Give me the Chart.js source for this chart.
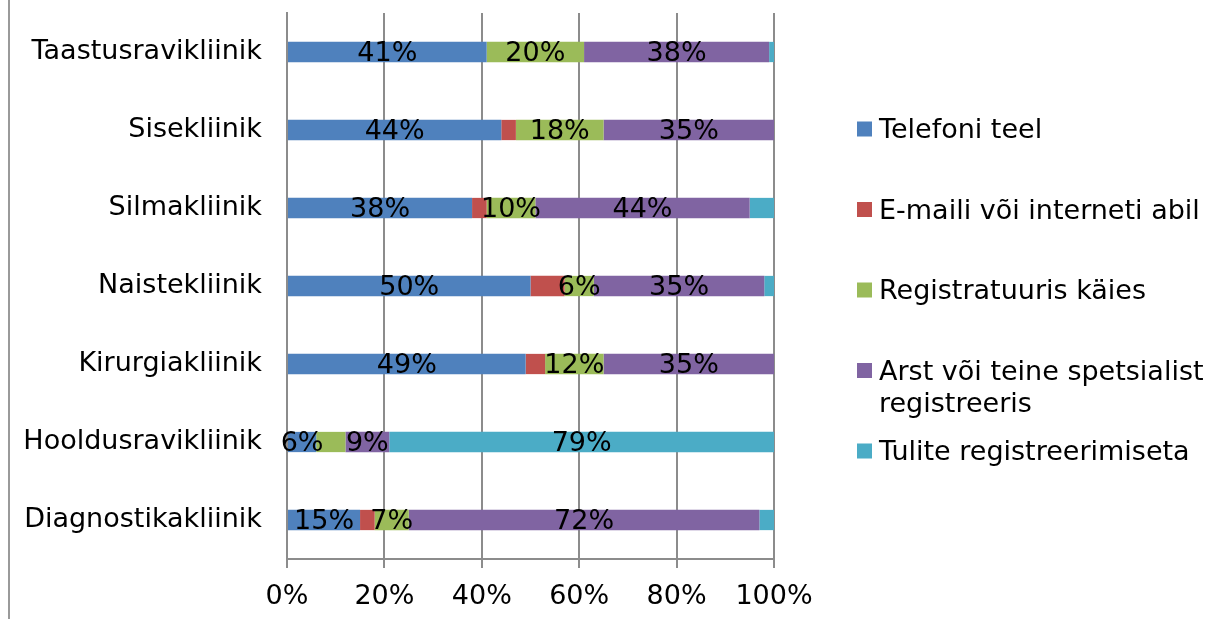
<!DOCTYPE html>
<html>
<head>
<meta charset="utf-8">
<script src="https://cdn.jsdelivr.net/npm/chart.js@4"></script>
<style>
  html, body { margin: 0; padding: 0; background: #fff; }
  canvas { display: block; }
</style>
</head>
<body>
<canvas id="chart" width="1215" height="619"></canvas>
<script>
const categories = ['Taastusravikliinik', 'Sisekliinik', 'Silmakliinik', 'Naistekliinik', 'Kirurgiakliinik', 'Hooldusravikliinik', 'Diagnostikakliinik'];
const telefoniTeel = [41, 44, 38, 50, 49, 6, 15];
const emailVoiInternet = [0, 3, 3, 7, 4, 0, 3];
const registratuurisKaies = [20, 18, 10, 6, 12, 6, 7];
const arstRegistreeris = [38, 35, 44, 35, 35, 9, 72];
const tuliteRegistreerimiseta = [1, 0, 5, 2, 0, 79, 3];
const xTicks = [0, 20, 40, 60, 80, 100];

const FONT = '"DejaVu Sans", Verdana, sans-serif';
const FONT_SIZE = 27;
const GRID = '#8c8c8c';

// value labels in the middle of each segment; small ones and ones that would
// run into the previous label in the row are skipped
const segmentLabels = {
  id: 'segmentLabels',
  afterDatasetsDraw(chart) {
    const ctx = chart.ctx;
    ctx.save();
    ctx.font = FONT_SIZE + 'px ' + FONT;
    ctx.fillStyle = '#000';
    ctx.textAlign = 'center';
    ctx.textBaseline = 'middle';
    const lastRight = {};
    chart.data.datasets.forEach((ds, di) => {
      if (ds.noLabels) return;
      chart.getDatasetMeta(di).data.forEach((bar, i) => {
        const v = ds.data[i];
        if (v <= 5) return;
        const text = v + '%';
        const w = ctx.measureText(text).width;
        const cx = (bar.x + bar.base) / 2;
        if (lastRight[i] !== undefined && cx - w / 2 < lastRight[i]) return;
        ctx.fillText(text, cx, bar.y + 2);
        lastRight[i] = cx + w / 2;
      });
    });
    ctx.restore();
  }
};

// legend on the right, one entry every 80px, long names wrap to two lines
const sideLegend = {
  id: 'sideLegend',
  afterDraw(chart) {
    const ctx = chart.ctx;
    ctx.save();
    ctx.font = FONT_SIZE + 'px ' + FONT;
    ctx.textBaseline = 'middle';
    ctx.textAlign = 'left';
    chart.data.datasets.forEach((ds, i) => {
      const cy = 129 + i * 80.5;
      ctx.fillStyle = ds.backgroundColor;
      ctx.fillRect(857, cy - 7.5, 15, 15);
      ctx.fillStyle = '#000';
      const lines = Array.isArray(ds.legendText) ? ds.legendText : [ds.label];
      lines.forEach((line, k) => ctx.fillText(line, 879, cy + 2 + k * 32));
    });
    ctx.restore();
  }
};

// outer frame edge on the left
const frameEdge = {
  id: 'frameEdge',
  beforeDraw(chart) {
    const ctx = chart.ctx;
    ctx.save();
    ctx.strokeStyle = '#9a9a9a';
    ctx.lineWidth = 2;
    ctx.beginPath();
    ctx.moveTo(9, 0);
    ctx.lineTo(9, chart.height);
    ctx.stroke();
    ctx.restore();
  }
};

new Chart(document.getElementById('chart'), {
  type: 'bar',
  data: {
    labels: categories,
    datasets: [
      { label: 'Telefoni teel', data: telefoniTeel, backgroundColor: '#4f81bd' },
      { label: 'E-maili või interneti abil', data: emailVoiInternet, backgroundColor: '#c0504d', noLabels: true },
      { label: 'Registratuuris käies', data: registratuurisKaies, backgroundColor: '#9bbb59' },
      { label: 'Arst või teine spetsialist registreeris', legendText: ['Arst või teine spetsialist', 'registreeris'], data: arstRegistreeris, backgroundColor: '#8064a2' },
      { label: 'Tulite registreerimiseta', data: tuliteRegistreerimiseta, backgroundColor: '#4bacc6' },
    ],
  },
  options: {
    indexAxis: 'y',
    responsive: false,
    animation: false,
    devicePixelRatio: 1,
    barPercentage: 0.26,
    categoryPercentage: 1,
    layout: { padding: { top: 13, right: 441, left: 0, bottom: 0 } },
    scales: {
      x: {
        stacked: true,
        min: 0,
        max: 100,
        afterBuildTicks(scale) {
          scale.ticks = xTicks.map((v) => ({ value: v }));
        },
        afterFit(scale) {
          scale.height = 60;
        },
        ticks: {
          callback: (v) => v + '%',
          color: '#000',
          font: { family: FONT, size: FONT_SIZE },
          padding: 13,
          maxRotation: 0,
        },
        grid: { color: GRID, lineWidth: 2, tickLength: 9 },
        border: { color: GRID, width: 2 },
      },
      y: {
        stacked: true,
        afterFit(scale) {
          scale.width = 287;
          scale.paddingTop = 0;
          scale.paddingBottom = 0;
        },
        ticks: {
          color: '#000',
          font: { family: FONT, size: FONT_SIZE },
          padding: 25,
        },
        grid: { display: false, drawTicks: false },
        border: { color: GRID, width: 2 },
      },
    },
    plugins: {
      legend: { display: false },
      tooltip: { enabled: false },
    },
  },
  plugins: [frameEdge, segmentLabels, sideLegend],
});
</script>
</body>
</html>
